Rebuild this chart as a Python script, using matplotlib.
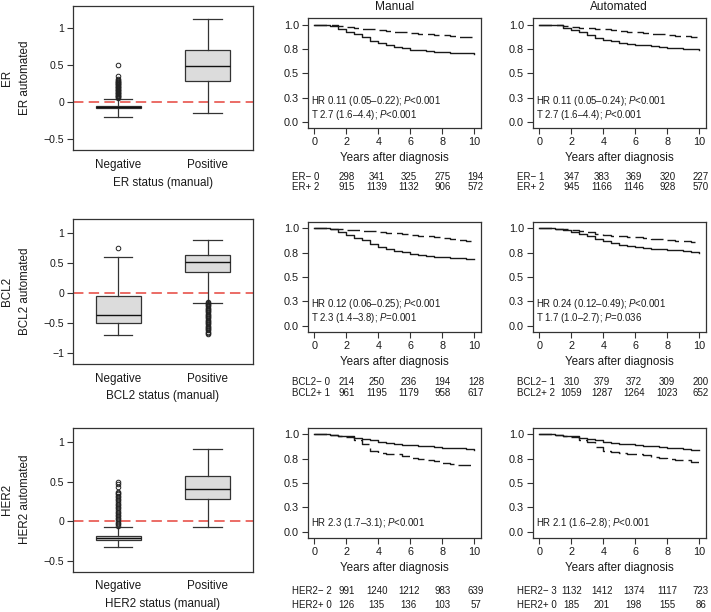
import matplotlib
matplotlib.use('Agg')
import matplotlib.pyplot as plt
from matplotlib import font_manager

plt.rcParams['font.family'] = ['Liberation Sans', 'DejaVu Sans']
plt.rcParams['mathtext.fontset'] = 'custom'
plt.rcParams['mathtext.rm'] = 'Liberation Sans'
plt.rcParams['mathtext.it'] = 'Liberation Sans:italic'
plt.rcParams['lines.scale_dashes'] = False
plt.rcParams['axes.unicode_minus'] = True

# ---------------- data ----------------
markers = ['ER', 'BCL2', 'HER2']
box_groups = ['Negative', 'Positive']

# box stats: [whislo, q1, med, q3, whishi]
er_neg_box = [-0.20, -0.075, -0.06, -0.045, 0.05]
er_pos_box = [-0.15, 0.285, 0.495, 0.70, 1.12]
er_neg_out = [0.06, 0.07, 0.08, 0.09, 0.10, 0.11, 0.12, 0.13, 0.14, 0.15, 0.16,
              0.17, 0.18, 0.19, 0.20, 0.21, 0.22, 0.23, 0.24, 0.25, 0.26, 0.27,
              0.28, 0.29, 0.30, 0.32, 0.35, 0.50]
er_pos_out = []

bcl2_neg_box = [-0.70, -0.51, -0.37, -0.055, 0.60]
bcl2_pos_box = [-0.18, 0.34, 0.51, 0.62, 0.87]
bcl2_neg_out = [0.75]
bcl2_pos_out = [-0.15, -0.17, -0.19, -0.21, -0.23, -0.25, -0.27, -0.29, -0.31,
                -0.33, -0.35, -0.37, -0.39, -0.41, -0.43, -0.45, -0.47, -0.49,
                -0.51, -0.53, -0.55, -0.57, -0.59, -0.61, -0.63, -0.65, -0.67,
                -0.69]

her2_neg_box = [-0.33, -0.235, -0.215, -0.185, -0.08]
her2_pos_box = [-0.08, 0.28, 0.405, 0.57, 0.915]
her2_neg_out = [-0.06, -0.04, -0.02, 0.00, 0.02, 0.04, 0.06, 0.08, 0.10, 0.12,
                0.14, 0.16, 0.18, 0.20, 0.22, 0.24, 0.26, 0.28, 0.30, 0.32,
                0.34, 0.36, 0.37, 0.43, 0.47, 0.50]
her2_pos_out = []

box_ylims = [(-0.645, 1.30), (-1.19, 1.22), (-0.64, 1.18)]
box_yticks = [[-0.5, 0, 0.5, 1], [-1, -0.5, 0, 0.5, 1], [-0.5, 0, 0.5, 1]]

years = [0, 0.5, 1, 1.5, 2, 2.5, 3, 3.5, 4, 4.5, 5, 5.5, 6, 6.5, 7, 7.5, 8,
         8.5, 9, 9.5, 10]

er_man_neg = [1, 1, 0.99, 0.955, 0.925, 0.905, 0.875, 0.835, 0.815, 0.79, 0.77,
              0.755, 0.742, 0.735, 0.728, 0.722, 0.716, 0.712, 0.708, 0.704, 0.695]
er_man_pos = [1, 1, 0.995, 0.985, 0.973, 0.965, 0.957, 0.95, 0.942, 0.935, 0.928,
              0.921, 0.915, 0.908, 0.902, 0.896, 0.89, 0.883, 0.876, 0.868, 0.86]
er_aut_neg = [1, 1, 0.995, 0.97, 0.942, 0.92, 0.897, 0.865, 0.84, 0.827, 0.815,
              0.805, 0.795, 0.786, 0.777, 0.77, 0.764, 0.758, 0.753, 0.745, 0.736]
er_aut_pos = [1, 1, 0.995, 0.987, 0.976, 0.969, 0.962, 0.956, 0.95, 0.942, 0.935,
              0.927, 0.92, 0.913, 0.907, 0.9, 0.894, 0.886, 0.879, 0.871, 0.863]

bcl2_man_neg = [1, 1, 0.99, 0.96, 0.93, 0.9, 0.873, 0.84, 0.81, 0.79, 0.77,
                0.752, 0.736, 0.726, 0.716, 0.708, 0.70, 0.696, 0.692, 0.686, 0.68]
bcl2_man_pos = [1, 1, 0.995, 0.99, 0.983, 0.977, 0.972, 0.966, 0.96, 0.952, 0.945,
                0.937, 0.93, 0.922, 0.915, 0.908, 0.90, 0.89, 0.88, 0.868, 0.856]
bcl2_aut_neg = [1, 1, 0.995, 0.98, 0.96, 0.937, 0.914, 0.888, 0.863, 0.845, 0.83,
                0.817, 0.805, 0.797, 0.79, 0.783, 0.777, 0.772, 0.767, 0.755, 0.743]
bcl2_aut_pos = [1, 1, 0.995, 0.986, 0.976, 0.965, 0.955, 0.942, 0.93, 0.924, 0.918,
                0.913, 0.908, 0.9, 0.893, 0.887, 0.88, 0.872, 0.864, 0.855, 0.846]

her2_man_neg = [1, 1, 0.995, 0.985, 0.976, 0.963, 0.95, 0.935, 0.92, 0.908, 0.897,
                0.892, 0.887, 0.882, 0.877, 0.868, 0.86, 0.856, 0.853, 0.847, 0.84]
her2_man_pos = [1, 1, 0.995, 0.985, 0.966, 0.935, 0.897, 0.83, 0.81, 0.80, 0.795,
                0.778, 0.76, 0.748, 0.736, 0.72, 0.70, 0.692, 0.685, 0.683, 0.68]
her2_aut_neg = [1, 1, 0.995, 0.985, 0.976, 0.962, 0.948, 0.936, 0.924, 0.913, 0.903,
                0.896, 0.89, 0.883, 0.876, 0.868, 0.86, 0.854, 0.848, 0.841, 0.834]
her2_aut_pos = [1, 1, 0.995, 0.982, 0.966, 0.94, 0.914, 0.87, 0.828, 0.818, 0.81,
                0.80, 0.793, 0.782, 0.77, 0.759, 0.748, 0.739, 0.73, 0.718, 0.707]

km_yticks = [0, 0.25, 0.5, 0.75, 1.0]
km_yticklabels = ['0.0', '0.3', '0.5', '0.8', '1.0']
km_xticks = [0, 2, 4, 6, 8, 10]
col_titles = ['Manual', 'Automated']

er_man_text = ['HR 0.11 (0.05–0.22); $\\mathit{P}$<0.001', 'T 2.7 (1.6–4.4); $\\mathit{P}$<0.001']
er_aut_text = ['HR 0.11 (0.05–0.24); $\\mathit{P}$<0.001', 'T 2.7 (1.6–4.4); $\\mathit{P}$<0.001']
bcl2_man_text = ['HR 0.12 (0.06–0.25); $\\mathit{P}$<0.001', 'T 2.3 (1.4–3.8); $\\mathit{P}$=0.001']
bcl2_aut_text = ['HR 0.24 (0.12–0.49); $\\mathit{P}$<0.001', 'T 1.7 (1.0–2.7); $\\mathit{P}$=0.036']
her2_man_text = ['HR 2.3 (1.7–3.1); $\\mathit{P}$<0.001']
her2_aut_text = ['HR 2.1 (1.6–2.8); $\\mathit{P}$<0.001']

er_man_risk_labels = ['ER− 0', 'ER+ 2']
er_aut_risk_labels = ['ER− 1', 'ER+ 2']
bcl2_man_risk_labels = ['BCL2− 0', 'BCL2+ 1']
bcl2_aut_risk_labels = ['BCL2− 1', 'BCL2+ 2']
her2_man_risk_labels = ['HER2− 2', 'HER2+ 0']
her2_aut_risk_labels = ['HER2− 3', 'HER2+ 0']

er_man_risk = [[298, 341, 325, 275, 194], [915, 1139, 1132, 906, 572]]
er_aut_risk = [[347, 383, 369, 320, 227], [945, 1166, 1146, 928, 570]]
bcl2_man_risk = [[214, 250, 236, 194, 128], [961, 1195, 1179, 958, 617]]
bcl2_aut_risk = [[310, 379, 372, 309, 200], [1059, 1287, 1264, 1023, 652]]
her2_man_risk = [[991, 1240, 1212, 983, 639], [126, 135, 136, 103, 57]]
her2_aut_risk = [[1132, 1412, 1374, 1117, 723], [185, 201, 198, 155, 86]]

# ---------------- layout (pixels) ----------------
W, H = 711, 612
fig = plt.figure(figsize=(W / 100, H / 100), dpi=100)

def rect(x0, x1, y0, y1):
    return [x0 / W, 1 - y1 / H, (x1 - x0) / W, (y1 - y0) / H]

def ftext(x, y, s, **kw):
    fig.text(x / W, 1 - y / H, s, **kw)

box_rows = [(6, 150), (219.3, 364), (427.7, 571.7)]
km_rows = [(18.3, 128.3), (221.7, 332.3), (427.7, 538.3)]
box_x = (73.3, 252.5)
km_x = [(307.9, 480.7), (532.9, 705.7)]
risk_rows = [(176.7, 187.3), (382.0, 393.3), (590.7, 605.3)]

FRAME = '#333333'
TXT = '#1a1a1a'
narrow_ok = any('Liberation Sans Narrow' in f.name for f in font_manager.fontManager.ttflist)
risk_font = ['Liberation Sans Narrow', 'Liberation Sans'] if narrow_ok else ['Liberation Sans']
risk_size = 8.4 if narrow_ok else 7.0

box_data = [
    (er_neg_box, er_neg_out, er_pos_box, er_pos_out),
    (bcl2_neg_box, bcl2_neg_out, bcl2_pos_box, bcl2_pos_out),
    (her2_neg_box, her2_neg_out, her2_pos_box, her2_pos_out),
]
km_data = [
    [(er_man_neg, er_man_pos, er_man_text, er_man_risk_labels, er_man_risk),
     (er_aut_neg, er_aut_pos, er_aut_text, er_aut_risk_labels, er_aut_risk)],
    [(bcl2_man_neg, bcl2_man_pos, bcl2_man_text, bcl2_man_risk_labels, bcl2_man_risk),
     (bcl2_aut_neg, bcl2_aut_pos, bcl2_aut_text, bcl2_aut_risk_labels, bcl2_aut_risk)],
    [(her2_man_neg, her2_man_pos, her2_man_text, her2_man_risk_labels, her2_man_risk),
     (her2_aut_neg, her2_aut_pos, her2_aut_text, her2_aut_risk_labels, her2_aut_risk)],
]
text_y = [(0.215, 0.075), (0.225, 0.08), (0.09,)]
risk_xpos = [2.0, 3.9, 5.9, 8.0, 10.1]

def fmt(v):
    if v == 0:
        return '0'
    s = ('%g' % v)
    return s.replace('-', '−')

for r, name in enumerate(markers):
    # ---- box plot ----
    y0, y1 = box_rows[r]
    ax = fig.add_axes(rect(box_x[0], box_x[1], y0, y1))
    nb, no, pb, po = box_data[r]
    stats = []
    for b, o, lab in [(nb, no, box_groups[0]), (pb, po, box_groups[1])]:
        stats.append(dict(whislo=b[0], q1=b[1], med=b[2], q3=b[3], whishi=b[4],
                          fliers=o, label=lab))
    ax.axhline(0, color='#E8534B', lw=1.2, dashes=(7.5, 3.8), zorder=0.5)
    ax.bxp(stats, positions=[1, 2], widths=0.5, capwidths=0.32, patch_artist=True,
           boxprops=dict(facecolor='#dcdcdc', edgecolor=FRAME, lw=0.9),
           medianprops=dict(color='#111111', lw=1.0),
           whiskerprops=dict(color=FRAME, lw=0.9),
           capprops=dict(color=FRAME, lw=0.9),
           flierprops=dict(marker='o', markersize=3.3, markerfacecolor='none',
                           markeredgecolor='#222222', markeredgewidth=0.7))
    ax.set_xlim(0.5, 2.5)
    ax.set_ylim(*box_ylims[r])
    ax.set_yticks(box_yticks[r])
    ax.set_yticklabels([fmt(v) for v in box_yticks[r]])
    ax.set_xticks([1, 2])
    ax.set_xticklabels(box_groups)
    ax.tick_params(axis='y', length=4.3, width=0.8, pad=2, labelsize=7.6,
                   color=FRAME, labelcolor=TXT)
    ax.tick_params(axis='x', length=0, pad=6.3, labelsize=8.4, labelcolor=TXT)
    for sp in ax.spines.values():
        sp.set_color(FRAME)
        sp.set_linewidth(0.9)
    yc = (y0 + y1) / 2
    ftext(7, yc, name, rotation=90, ha='center', va='center', fontsize=8.4, color=TXT)
    ftext(25.5, yc, name + ' automated', rotation=90, ha='center', va='center',
          fontsize=8.4, color=TXT)
    ftext((box_x[0] + box_x[1]) / 2, y1 + 32.5, name + ' status (manual)',
          ha='center', va='center', fontsize=8.4, color=TXT)

    # ---- KM panels ----
    k0, k1 = km_rows[r]
    for c in range(2):
        neg, pos, texts, rlabels, rvals = km_data[r][c]
        ax = fig.add_axes(rect(km_x[c][0], km_x[c][1], k0, k1))
        ax.step(years, neg, where='post', color='#1a1a1a', lw=1.0)
        ax.step(years, pos, where='post', color='#1a1a1a', lw=1.0, dashes=(9, 3.6))
        ax.set_xlim(-0.4, 10.4)
        ax.set_ylim(-0.065, 1.065)
        ax.set_xticks(km_xticks)
        ax.set_yticks(km_yticks)
        ax.set_yticklabels(km_yticklabels)
        ax.tick_params(length=4.3, width=0.8, pad=2.2, labelsize=7.8,
                       color=FRAME, labelcolor=TXT)
        for sp in ax.spines.values():
            sp.set_color(FRAME)
            sp.set_linewidth(0.9)
        for i, t in enumerate(texts):
            ax.text(-0.2, text_y[r][i], t, ha='left', va='center', fontsize=6.9,
                    color=TXT)
        ftext((km_x[c][0] + km_x[c][1]) / 2, k1 + 30, 'Years after diagnosis',
              ha='center', va='center', fontsize=8.4, color=TXT)
        if r == 0:
            ftext((km_x[c][0] + km_x[c][1]) / 2, 6.5, col_titles[c],
                  ha='center', va='center', fontsize=8.6, color=TXT)
        # risk table
        x_zero = km_x[c][0] + 6.4
        for j in range(2):
            yy = risk_rows[r][j]
            ftext(x_zero - 22.5, yy, rlabels[j], ha='left', va='center',
                  fontsize=risk_size, family=risk_font, color=TXT)
            for xv, n in zip(risk_xpos, rvals[j]):
                ftext(x_zero + 16 * xv, yy, str(n), ha='center', va='center',
                      fontsize=risk_size, family=risk_font, color=TXT)

fig.savefig('out.png', dpi=100, facecolor='white')
